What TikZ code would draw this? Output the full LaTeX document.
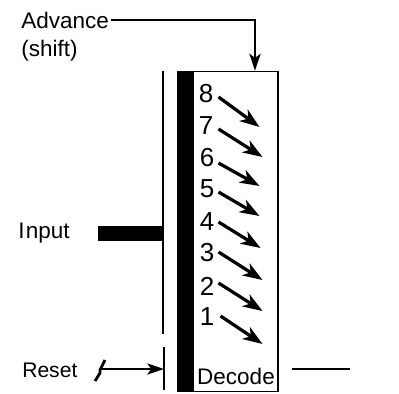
\documentclass[tikz,border=0pt]{standalone}
\usepackage{fontspec}
\setmainfont{Liberation Sans}
\usetikzlibrary{arrows.meta}
\tikzset{
    lbl/.style={inner sep=0pt,font=\fontsize{16}{18}\selectfont},
    num/.style={inner sep=0pt,font=\fontsize{18.5}{20}\selectfont},
    wire/.style={line width=1.5pt},
    feed/.style={line width=1.5pt,-{Stealth[length=12pt,width=8pt,inset=3pt]}},
    slant/.style={line width=2.3pt,-{Stealth[length=14pt,width=10pt,inset=4pt]}}
}
\begin{document}
\begin{tikzpicture}[x=0.025cm,y=-0.025cm]
    \useasboundingbox (0,0) rectangle (399,393);
    \node[draw,line width=1.2pt,minimum width=2.5cm,minimum height=8cm,inner sep=0pt] (decoder) at (228,231.5) {};
    \node[fill=black,minimum width=0.4cm,minimum height=8cm,inner sep=0pt] (bar) at (186,231.5) {};
    \node[lbl,anchor=west] (advance) at (21,20) {Advance};
    \node[lbl,anchor=west] (shift) at (21,51) {(shift)};
    \node[lbl,anchor=west] (input) at (18,233) {I\kern1pt nput};
    \node[lbl,anchor=west,font=\fontsize{15}{18}\selectfont] (reset) at (22,370) {Reset};
    \node[lbl] (decode) at (236,376) {Decode};
    \node[num] (n8) at (206,94) {8};
    \node[num] (n7) at (206,126) {7};
    \node[num] (n6) at (207,158) {6};
    \node[num] (n5) at (207,189) {5};
    \node[num] (n4) at (207,222) {4};
    \node[num] (n3) at (207,253) {3};
    \node[num] (n2) at (207,286) {2};
    \node[num] (n1) at (207,317) {1};
    \draw[slant] ([shift={(5,3)}]n8.east) -- ++(41,30);
    \draw[slant] ([shift={(5,3)}]n7.east) -- ++(44,28);
    \draw[slant] ([shift={(4,5)}]n6.east) -- ++(41,23);
    \draw[slant] ([shift={(4,3)}]n5.east) -- ++(41,24);
    \draw[slant] ([shift={(4,0)}]n4.east) -- ++(42,26);
    \draw[slant] ([shift={(4,-1)}]n3.east) -- ++(44,28);
    \draw[slant] ([shift={(4,-3)}]n2.east) -- ++(44,28);
    \draw[slant] ([shift={(6,-1)}]n1.east) -- ++(42,28);
    % input side
    \coordinate (linetop) at (163,71);
    \coordinate (linebot) at (163,334);
    \coordinate (resettop) at (164,347);
    \coordinate (resetbot) at (164,390);
    \coordinate (resethit) at (164,369);
    \coordinate (resetfrom) at (100,369);
    \draw[wire] (linetop) -- (linebot);
    \draw[wire] (resettop) -- (resetbot);
    \node[fill=black,minimum width=1.625cm,minimum height=0.375cm,inner sep=0pt] (inbar) at (130.5,233.5) {};
    \draw[feed] (resetfrom) -- (resethit);
    \draw[line width=2pt] (105,360) -- (100,370) -- (100,373) -- (95,381);
    % advance and output
    \draw[feed] (advance.east) ++(2,0) -| ([xshift=27*0.025cm]decoder.north);
    \coordinate (outfrom) at (292,369);
    \coordinate (outto) at (350,369);
    \draw[line width=1.8pt] (outfrom) -- (outto);
\end{tikzpicture}
\end{document}
